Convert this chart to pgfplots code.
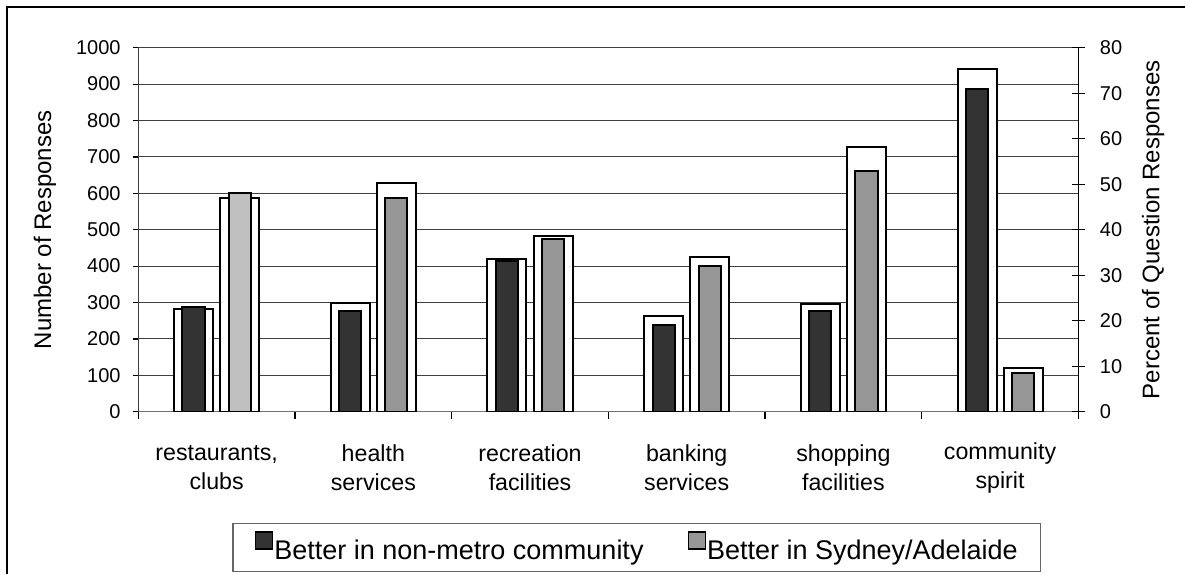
\documentclass[border=0pt]{standalone}
\usepackage{fontspec}
\setmainfont{Liberation Sans}
\usepackage{pgfplots}
\pgfplotsset{compat=1.18}
\definecolor{darkbar}{HTML}{333333}
\definecolor{midbar}{HTML}{969696}
\definecolor{lightbar}{HTML}{C0C0C0}
\pgfplotsset{
  common/.style={
    scale only axis, width=470.05pt, height=182pt,
    at={(69.15pt,81.15pt)}, anchor=south west,
    xmin=-0.5, xmax=5.5, ymin=0,
    /pgf/number format/assume math mode=true,
    /pgf/number format/1000 sep={},
    tick label style={font=\fontsize{10}{12}\selectfont},
  },
  legimg/.style={legend image code/.code={\path (0pt,-4pt); \draw[##1,line width=0.75pt] (-1pt,1pt) rectangle (7.5pt,9.5pt);}},
}
\begin{document}
\begin{tikzpicture}
\path[use as bounding box] (0,0) rectangle (592.5pt,287pt);
\draw[line width=0.9pt] (3.65pt,0) -- (3.65pt,283.65pt) -- (592.5pt,283.65pt);
\begin{axis}[common,
  ymax=1000, ytick={0,100,...,1000},
  axis x line*=bottom, axis y line*=left,
  x axis line style={black!55, line width=0.6pt},
  y axis line style={black!75, line width=0.6pt},
  ymajorgrids, grid style={black!75, line width=0.5pt},
  xtick={0,...,5},
  xticklabels={{restaurants,\\clubs},{health\\services},{recreation\\facilities},{banking\\services},{shopping\\facilities},{community\\spirit}},
  xticklabel style={align=center, font=\fontsize{11.6}{14.4}\selectfont, anchor=center, yshift=-25.3pt},
  major x tick style={draw=none},
  minor xtick={-0.5,0.5,...,5.5},
  minor tick length=3.5pt,
  tick align=outside, major tick length=2.85pt,
  tick style={black, line width=0.6pt},
  yticklabel style={xshift=-2.5pt},
  ylabel={Number of Responses},
  ylabel style={at={(axis description cs:-0.0992,0.5)}, anchor=center, font=\fontsize{12}{14}\selectfont},
]
\addplot[ybar, bar width=0.249, bar shift=-0.147, fill=white, draw=black, line width=1pt]
  coordinates {(0,283) (1,300) (2,420) (3,264) (4,295) (5,942)};
\addplot[ybar, bar width=0.249, bar shift=0.147, fill=white, draw=black, line width=1pt]
  coordinates {(0,587) (1,629) (2,483) (3,425) (4,727) (5,120)};
\end{axis}
\begin{axis}[common,
  ymax=80, ytick={0,10,...,80},
  axis y line*=right, axis x line=none,
  y axis line style={black, line width=0.6pt},
  tick align=center, major tick length=6.5pt,
  tick style={black, line width=0.6pt},
  yticklabel style={xshift=4pt},
  ylabel={Percent of Question Responses},
  ylabel style={at={(axis description cs:1.0794,0.5)}, anchor=center, font=\fontsize{12}{14}\selectfont},
  legend columns=2,
  legend style={at={(0.1,-0.305)}, anchor=north west, draw=black!60, line width=0.6pt,
    inner xsep=11pt, inner ysep=4pt, nodes={inner sep=0.5pt},
    font=\fontsize{13.5}{15.5}\selectfont,
    /tikz/every even column/.append style={column sep=21.5pt}},
]
\addplot[ybar, bar width=0.142, bar shift=-0.147, fill=darkbar, draw=black, line width=1pt, legimg]
  coordinates {(0,23.1) (1,22.1) (2,33.2) (3,19.1) (4,22.1) (5,71.0)};
\addlegendentry{Better in non-metro community}
\addplot[ybar, bar width=0.142, bar shift=0.147, fill=midbar, draw=black, line width=1pt, legimg]
  coordinates {(1,47.0) (2,38.0) (3,32.1) (4,53.0) (5,8.6)};
\addlegendentry{Better in Sydney/Adelaide}
\addplot[ybar, bar width=0.142, bar shift=0.147, fill=lightbar, draw=black, line width=1pt, forget plot]
  coordinates {(0,48.1)};
\end{axis}
\end{tikzpicture}
\end{document}
